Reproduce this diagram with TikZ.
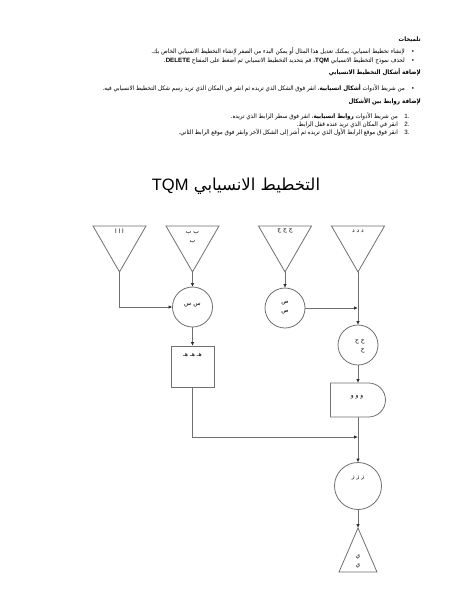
\documentclass[tikz,border=0pt]{standalone}
\usepackage{fontspec}
\setmainfont{Liberation Sans}
\newfontfamily\arf[Script=Arabic]{DejaVu Sans}
\newfontfamily\arb[Script=Arabic,FakeStretch=0.9]{DejaVu Sans}
\newfontfamily\latf{Liberation Sans}
\TeXXeTstate=1
\usetikzlibrary{shapes.geometric,shapes.misc,arrows.meta}
\newcommand{\AR}[1]{{\arf\beginR #1\endR}}
\newcommand{\ARB}[1]{{\arb\beginR #1\endR}}
\definecolor{lnc}{HTML}{707070}
\definecolor{arc}{HTML}{303030}
\begin{document}
\begin{tikzpicture}[x=1pt,y=-1pt,
  shp/.style={draw=lnc, line width=0.8pt, inner sep=0pt, outer sep=0pt},
  tri/.style={shp, regular polygon, regular polygon sides=3, shape border rotate=180, minimum size=61.2pt},
  circ/.style={shp, circle, minimum size=40pt},
  con/.style={draw=lnc, line width=0.8pt, -{Latex[length=4pt,width=3.5pt,color=arc]}},
  lbl/.style={font=\arf\fontsize{6}{9}\selectfont, inner sep=0pt, align=center},
  body/.style={font=\fontsize{6.2}{8}\selectfont, inner sep=0pt, text height=5pt, text depth=1.5pt, anchor=east},
  hd/.style={body, font=\fontsize{6.2}{8}\selectfont\bfseries},
  bul/.style={font=\fontsize{6.2}{8}\selectfont, inner sep=0pt, text height=5pt, text depth=1.5pt}]
\useasboundingbox[fill=white] (0,0) rectangle (462,600);

% ---------- instructions text ----------
\node[hd] (h1) at (421,40) {\ARB{تلميحات}};
\node[bul] (d1) at (413,52) {•};
\node[body] (b1) at (405,52) {\ARB{لإنشاء تخطيط انسيابي، يمكنك تعديل هذا المثال أو يمكن البدء من الصفر لإنشاء التخطيط الانسيابي الخاص بك.}};
\node[bul] (d2) at (413,60.5) {•};
\node[body] (b2) at (405,60.5) {\ARB{لحذف نموذج التخطيط الانسيابي {\latf\bfseries TQM}، قم بتحديد التخطيط الانسيابي ثم اضغط على المفتاح {\latf\bfseries DELETE}.}};
\node[hd] (h2) at (421,73) {\ARB{لإضافة أشكال التخطيط الانسيابي}};
\node[bul] (d3) at (413,89) {•};
\node[body] (b3) at (405,89) {\ARB{من شريط الأدوات \textbf{أشكال انسيابية}، انقر فوق الشكل الذي تريده ثم انقر في المكان الذي تريد رسم شكل التخطيط الانسيابي فيه.}};
\node[hd] (h3) at (421,102) {\ARB{لإضافة روابط بين الأشكال}};
\node[bul] (n1) at (407,117) {1.};
\node[body] (i1) at (398,117) {\ARB{من شريط الأدوات \textbf{روابط انسيابية}، انقر فوق سطر الرابط الذي تريده.}};
\node[bul] (n2) at (407,125) {2.};
\node[body] (i2) at (398,125) {\ARB{انقر في المكان الذي تريد عنده قفل الرابط.}};
\node[bul] (n3) at (407,133) {3.};
\node[body] (i3) at (398,133) {\ARB{انقر فوق موقع الرابط الأول الذي تريده ثم أشر إلى الشكل الآخر وانقر فوق موقع الرابط الثاني.}};

% ---------- title ----------
\node[inner sep=0pt, font=\fontsize{16.5}{20}\selectfont] (title) at (236,186) {\AR{التخطيط الانسيابي {\latf TQM}}};

% ---------- shapes ----------
\node[tri] (t1) at (119.5,241.3) {};
\node[tri] (t2) at (192.5,241.3) {};
\node[tri] (t3) at (285,241.3) {};
\node[tri] (t4) at (358,241.3) {};
\node[lbl] (l1) at (119.5,231) {\AR{ا ا ا}};
\node[lbl] (l2) at (192.5,238) {\AR{ب ب}\\\AR{ب}};
\node[lbl] (l3) at (285,231) {\AR{ج ج ج}};
\node[lbl] (l4) at (358,231) {\AR{د د د}};

\node[circ] (c1) at (192.5,307) {};
\node[circ] (c2) at (285,308) {};
\node[circ] (c3) at (358,345) {};
\node[shp, rectangle, minimum width=43pt, minimum height=41pt] (bx) at (192.5,366.5) {};
\node[shp, rounded rectangle, rounded rectangle west arc=none, minimum width=55pt, minimum height=34pt] (dl) at (358,400) {};
\node[circ, minimum size=47pt] (c4) at (358,486) {};
\coordinate (bt) at (358,528);
\draw[draw=lnc, line width=0.8pt, line join=miter] (bt) -- (377,572) -- (339,572) -- cycle;

\node[lbl] (lc1) at (192.5,305) {\AR{س س}};
\node[lbl] (lc2) at (285,308) {\AR{ص}\\\AR{ص}};
\node[lbl, align=right] (lc3) at (360,346) {\AR{ح ح}\\\AR{ح}};
\node[lbl] (lbx) at (192.5,355) {\AR{هـ هـ هـ}};
\node[lbl] (ldl) at (357,397) {\AR{و و و}};
\node[lbl] (lc4) at (358,478) {\AR{ز ز ز}};
\node[lbl] (lbt) at (358,561) {\AR{ي}\\\AR{ي}};

% ---------- connectors ----------
\coordinate (j2) at (358,437);
\draw[con] (t1.south) |- (c1.west);
\draw[con] (t2.south) -- (c1.north);
\draw[con] (t3.south) -- (c2.north);
\draw[con] (t4.south) -- (c3.north);
\draw[con] (c2.east) -- (c2.east -| t4.south);
\draw[con] (c1.south) -- (bx.north);
\draw[con] (c3.south) -- (dl.north);
\draw[con] (bx.south) |- (j2);
\draw[con] (dl.south) -- (c4.north);
\draw[con] (c4.south) -- (bt);
\end{tikzpicture}
\end{document}
